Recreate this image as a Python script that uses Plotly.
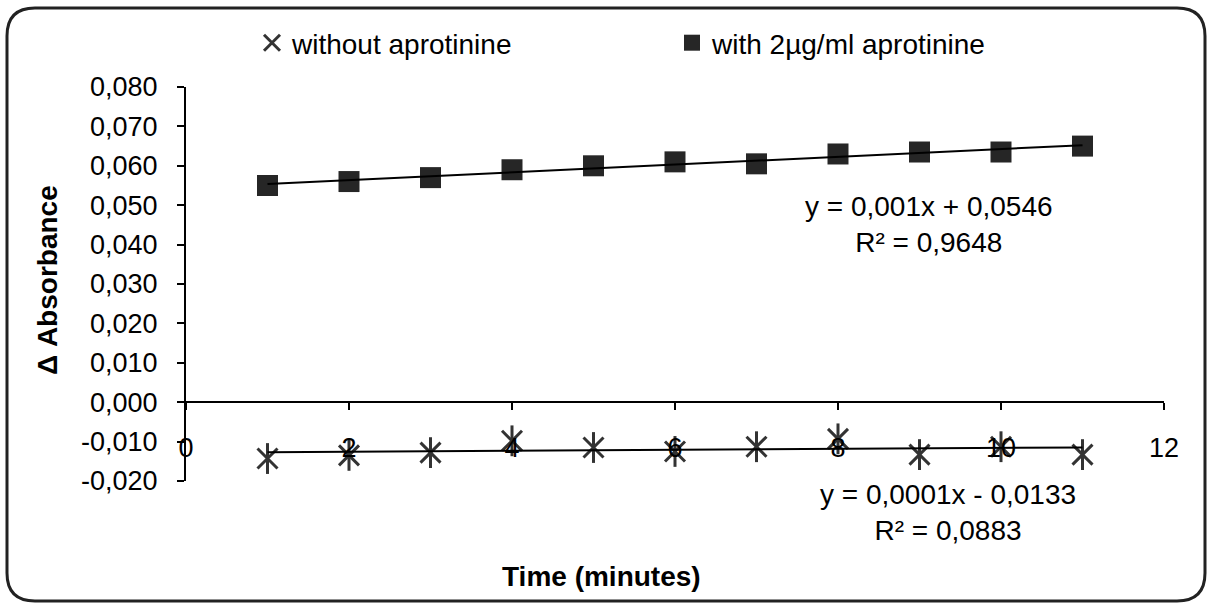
import numpy as np
import plotly.graph_objects as go

# ---- data ----
time_min = [1, 2, 3, 4, 5, 6, 7, 8, 9, 10, 11]
without_aprotinine = [-0.0143, -0.0135, -0.0128, -0.0098, -0.0115, -0.0125,
                      -0.0113, -0.0093, -0.0133, -0.0113, -0.0133]
with_aprotinine = [0.0550, 0.0560, 0.0570, 0.0590, 0.0600, 0.0610,
                   0.0605, 0.0630, 0.0635, 0.0635, 0.0650]
y_tickvals = [-0.02, -0.01, 0.0, 0.01, 0.02, 0.03, 0.04, 0.05, 0.06, 0.07, 0.08]
y_ticktext = ["-0,020", "-0,010", "0,000", "0,010", "0,020", "0,030",
              "0,040", "0,050", "0,060", "0,070", "0,080"]
x_tickvals = [0, 2, 4, 6, 8, 10, 12]
eq_with = "y = 0,001x + 0,0546<br>R² = 0,9648"
eq_without = "y = 0,0001x - 0,0133<br>R² = 0,0883"

# ---- layout geometry (pixels) ----
W, H = 1209, 604
L, R, T, B = 186, 1164, 87, 481
FONT = "Liberation Sans, Arial, sans-serif"
FS = 28
TFS = 27
STAR = "#333333"


def pp(px, py):
    return (px - L) / (R - L), (B - py) / (B - T)


# trend lines from least squares fit of the data
xa = np.array(time_min, dtype=float)
fit_with = np.polyfit(xa, np.array(with_aprotinine), 1)
fit_without = np.polyfit(xa, np.array(without_aprotinine), 1)
trend_x = [time_min[0], time_min[-1]]

fig = go.Figure()

fig.add_trace(go.Scatter(
    x=time_min, y=without_aprotinine, mode="markers", name="without aprotinine",
    marker=dict(symbol="x-thin-open", size=20, color=STAR,
                line=dict(width=3, color=STAR)),
))
fig.add_trace(go.Scatter(
    x=time_min, y=without_aprotinine, mode="markers", showlegend=False,
    marker=dict(symbol="line-ns-open", size=22, color=STAR,
                line=dict(width=3, color=STAR)),
))
fig.add_trace(go.Scatter(
    x=time_min, y=with_aprotinine, mode="markers", name="with 2µg/ml aprotinine",
    marker=dict(symbol="square", size=21, color="#262626", line=dict(width=0)),
))
fig.add_trace(go.Scatter(
    x=trend_x, y=list(np.polyval(fit_without, trend_x)), mode="lines",
    showlegend=False, line=dict(color="black", width=2),
))
fig.add_trace(go.Scatter(
    x=trend_x, y=list(np.polyval(fit_with, trend_x)), mode="lines",
    showlegend=False, line=dict(color="black", width=2),
))

# rounded border around the whole chart
x0, x1, y0, y1, r = 7, 1205, 8, 601, 28


def P(a, b):
    u, v = pp(a, b)
    return f"{u:.5f},{v:.5f}"


path = (f"M {P(x0 + r, y0)} L {P(x1 - r, y0)} Q {P(x1, y0)} {P(x1, y0 + r)} "
        f"L {P(x1, y1 - r)} Q {P(x1, y1)} {P(x1 - r, y1)} "
        f"L {P(x0 + r, y1)} Q {P(x0, y1)} {P(x0, y1 - r)} "
        f"L {P(x0, y0 + r)} Q {P(x0, y0)} {P(x0 + r, y0)} Z")

ann = []
ax, ay = pp(929, 224)
ann.append(dict(xref="paper", yref="paper", x=ax, y=ay, text=eq_with, showarrow=False,
                xanchor="center", yanchor="middle", align="center",
                font=dict(size=FS, color="black", family=FONT)))
ax, ay = pp(948, 512)
ann.append(dict(xref="paper", yref="paper", x=ax, y=ay, text=eq_without, showarrow=False,
                xanchor="center", yanchor="middle", align="center",
                font=dict(size=FS, color="black", family=FONT)))
ax, ay = pp(601, 576)
ann.append(dict(xref="paper", yref="paper", x=ax, y=ay, text="<b>Time (minutes)</b>",
                showarrow=False, xanchor="center", yanchor="middle",
                font=dict(size=FS, color="black", family=FONT)))
ax, ay = pp(47, 280)
ann.append(dict(xref="paper", yref="paper", x=ax, y=ay, text="<b>Δ Absorbance</b>",
                showarrow=False, xanchor="center", yanchor="middle", textangle=-90,
                font=dict(size=FS, color="black", family=FONT)))

lx, ly = pp(252, 43)
fig.update_layout(
    width=W, height=H,
    margin=dict(l=L, r=W - R, t=T, b=H - B),
    paper_bgcolor="white", plot_bgcolor="white",
    font=dict(family=FONT, size=FS, color="black"),
    xaxis=dict(range=[0, 12], tickvals=x_tickvals, showgrid=False, zeroline=False,
               showline=True, linecolor="black", linewidth=2, ticks="outside",
               ticklen=7, tickwidth=2, tickcolor="black", anchor="free", position=0.2,
               ticklabelstandoff=14, tickfont=dict(size=TFS)),
    yaxis=dict(range=[-0.02, 0.08], tickvals=y_tickvals, ticktext=y_ticktext,
               showgrid=False, zeroline=False, showline=True, linecolor="black",
               linewidth=2, ticks="outside", ticklen=7, tickwidth=2, tickcolor="black",
               ticklabelstandoff=14, tickfont=dict(size=TFS)),
    legend=dict(orientation="h", x=lx, y=ly, xanchor="left", yanchor="middle",
                entrywidth=375, font=dict(size=FS), bgcolor="rgba(0,0,0,0)"),
    shapes=[dict(type="path", xref="paper", yref="paper", path=path,
                 line=dict(color="#222222", width=3))],
    annotations=ann,
    showlegend=True,
)

fig.write_html("out.html")
